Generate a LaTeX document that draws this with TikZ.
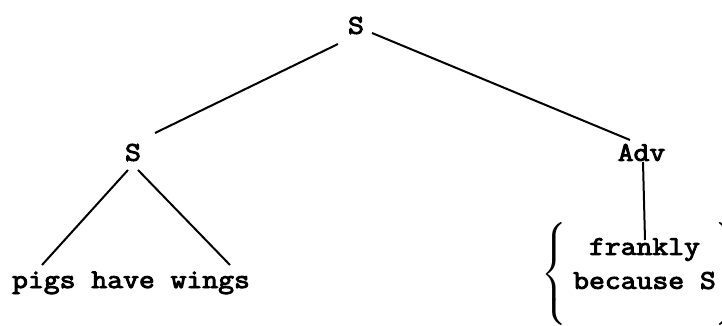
\documentclass[tikz,border=0pt]{standalone}
\usepackage{fontspec}
\usepackage{amsmath}
\newfontfamily\treefont{Latin Modern Mono}[FakeStretch=1.14, FakeBold=3.5]
\usetikzlibrary{positioning,calc}

\begin{document}
\begin{tikzpicture}[x=0.5pt, y=-0.5pt,
    word/.style={font=\treefont\fontsize{13.5}{17}\selectfont, inner sep=0pt},
    branch/.style={line width=1pt}]
    \useasboundingbox (0,0) rectangle (722,326);
    \node (top) [word] at (356,25.5) {S};
    \node (s1) [word] at (133,152.5) {S};
    \node (adv) [word] at (641.5,152.5) {Adv};
    \node (leaves) [word, anchor=base] at (131,288) {pigs have wings};
    \node (alt) [word] at (641,274) {$\delimiterfactor=1000 \delimitershortfall=0pt
        \left\{\rule[-18.6pt]{0pt}{44pt}\hspace{3pt}\raisebox{4.5pt}{\begin{tabular}{@{}c@{}}frankly\\because S\end{tabular}}\hspace{-0.5pt}\right\}$};

    \path [branch] ($(top)+(-18,18.5)$) edge ($(s1)+(22,-19.5)$);
    \path [branch] ($(top)+(16,7.5)$) edge ($(adv)+(-11.5,-12.5)$);
    \path [branch] ($(s1)+(-5,17.5)$) edge ($(leaves.base)+(-89,-23)$);
    \path [branch] ($(s1)+(5,17.5)$) edge ($(leaves.base)+(99,-23)$);
    \path [branch] ($(adv)+(1.5,9.5)$) edge ($(alt)+(4,-34)$);
\end{tikzpicture}
\end{document}
